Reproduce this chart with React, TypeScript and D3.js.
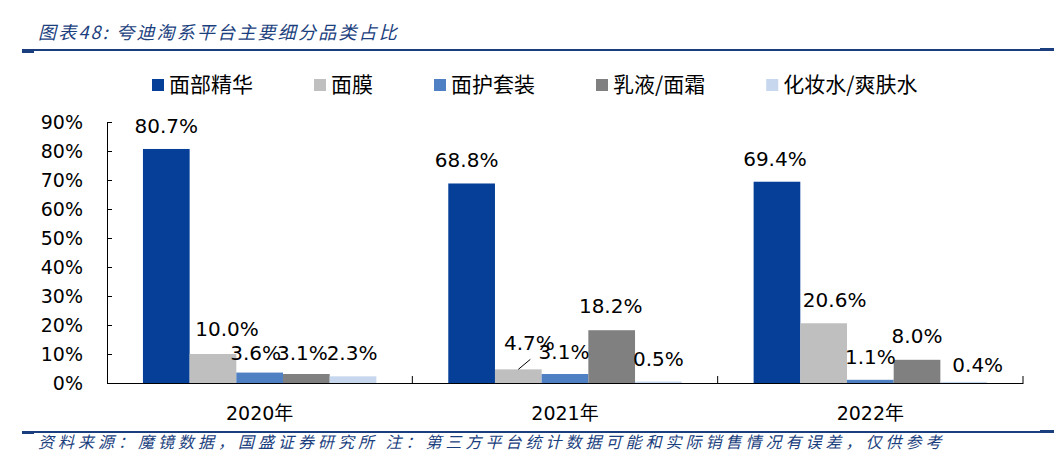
import React, { useRef, useEffect } from 'react'
import * as d3 from 'd3'

// 数据
const years = ['2020年', '2021年', '2022年']
const seriesNames = ['面部精华', '面膜', '面护套装', '乳液/面霜', '化妆水/爽肤水']
const faceEssence = [80.7, 68.8, 69.4]
const faceMask = [10.0, 4.7, 20.6]
const careSet = [3.6, 3.1, 1.1]
const lotionCream = [3.1, 18.2, 8.0]
const toner = [2.3, 0.5, 0.4]
const yTicks = [0, 10, 20, 30, 40, 50, 60, 70, 80, 90]

const title = '图表48:  夸迪淘系平台主要细分品类占比'
const source = '资料来源：魔镜数据，国盛证券研究所 注：第三方平台统计数据可能和实际销售情况有误差，仅供参考'

const colors = ['#063F98', '#BFBFBF', '#4F80C4', '#808080', '#C6D7EE']

// 标签手动微调 [series][year] -> [dx, dy]
const labelNudge: [number, number][][] = [
  [[0, 0], [-5, 0], [-2, 0]],
  [[14, -2], [11, -3], [11, 0]],
  [[-4, 3], [-1, 1], [0, 0]],
  [[-4, 2], [-1, -1], [0, -1]],
  [[-1, 0], [0, 0], [14, 6]],
]

const W = 1060
const H = 469
const margin = { left: 107, right: 1023, top: 122, bottom: 383 }
const blue = '#1B3F7E'

export default function App() {
  const svgRef = useRef<SVGSVGElement>(null)

  useEffect(() => {
    if (!svgRef.current) return
    const svg = d3.select(svgRef.current)
    svg.selectAll('*').remove()

    const values = [faceEssence, faceMask, careSet, lotionCream, toner]

    const x0 = d3.scaleBand<string>().domain(years).range([margin.left, margin.right]).padding(0)
    const x1 = d3.scaleBand<string>().domain(seriesNames).range([0, x0.bandwidth()]).paddingInner(0).paddingOuter(0.77)
    const y = d3.scaleLinear().domain([0, 90]).range([margin.bottom, margin.top])

    const numFont = '"DejaVu Sans", Verdana, sans-serif'
    const cjkFont = '"Noto Sans CJK SC", sans-serif'

    // 标题
    svg.append('text')
      .attr('x', 38).attr('y', 39)
      .attr('font-family', cjkFont)
      .attr('font-size', 18)
      .attr('font-style', 'italic')
      .attr('letter-spacing', 2.2)
      .attr('fill', blue)
      .text(title)

    svg.append('line').attr('x1', 22).attr('x2', 1054).attr('y1', 50).attr('y2', 50)
      .attr('stroke', blue).attr('stroke-width', 2)
    svg.append('rect').attr('x', 22).attr('y', 49).attr('width', 12).attr('height', 4).attr('fill', blue)
    svg.append('rect').attr('x', 1040).attr('y', 48).attr('width', 14).attr('height', 3).attr('fill', blue)

    // 图例
    const legend = svg.append('g').attr('transform', 'translate(152,0)')
    let lx = 0
    seriesNames.forEach((name, i) => {
      legend.append('rect').attr('x', lx).attr('y', 79).attr('width', 12).attr('height', 12).attr('fill', colors[i])
      const t = legend.append('text')
        .attr('x', lx + 17).attr('y', 92)
        .attr('font-family', cjkFont)
        .attr('font-size', 21)
        .attr('fill', '#000')
        .text(name)
      const len = (t.node() as SVGTextElement).getComputedTextLength()
      lx += 17 + len + 61
    })

    // 柱子
    years.forEach((yr, yi) => {
      const gx = x0(yr)!
      seriesNames.forEach((s, si) => {
        const v = values[si][yi]
        svg.append('rect')
          .attr('x', gx + x1(s)!)
          .attr('y', y(v))
          .attr('width', x1.bandwidth())
          .attr('height', y(0) - y(v))
          .attr('fill', colors[si])
      })
    })

    // 坐标轴
    const yAxis = svg.append('g')
      .attr('transform', `translate(${margin.left},0)`)
      .call(d3.axisLeft(y).tickValues(yTicks).tickSize(-5).tickPadding(24).tickFormat(d => `${d}%`))
    yAxis.select('.domain').attr('stroke', '#000')
    yAxis.selectAll('.tick line').attr('stroke', '#000')
    yAxis.selectAll('.tick text')
      .attr('font-family', numFont)
      .attr('font-size', 19)
      .attr('fill', '#000')

    const xAxis = svg.append('g')
      .attr('transform', `translate(0,${margin.bottom})`)
      .call(d3.axisBottom(x0).tickSize(0).tickPadding(0).tickFormat(() => ''))
    xAxis.select('.domain').attr('stroke', '#000')

    // 分隔刻度
    const seps = years.map(yr => x0(yr)! + x0.bandwidth())
    svg.selectAll('.sep').data(seps).enter().append('line')
      .attr('x1', d => d).attr('x2', d => d)
      .attr('y1', margin.bottom - 7).attr('y2', margin.bottom)
      .attr('stroke', '#000')

    // 类别标签
    years.forEach(yr => {
      const cx = x0(yr)! + x0.bandwidth() / 2
      const t = svg.append('text')
        .attr('x', cx).attr('y', 420)
        .attr('text-anchor', 'middle')
        .attr('font-size', 19)
        .attr('fill', '#000')
      t.append('tspan').attr('font-family', numFont).text(yr.replace('年', ''))
      t.append('tspan').attr('font-family', cjkFont).text('年')
    })

    // 数据标签
    years.forEach((yr, yi) => {
      const gx = x0(yr)!
      seriesNames.forEach((s, si) => {
        const v = values[si][yi]
        const cx = gx + x1(s)! + x1.bandwidth() / 2
        const [dx, dy] = labelNudge[si][yi]
        svg.append('text')
          .attr('x', cx + dx)
          .attr('y', y(v) - 16 + dy)
          .attr('text-anchor', 'middle')
          .attr('font-family', numFont)
          .attr('font-size', 20)
          .attr('fill', '#000')
          .text(`${v.toFixed(1)}%`)
        // 引导线
        if (si === 1 && yi === 1) {
          svg.append('line')
            .attr('x1', cx).attr('y1', y(v))
            .attr('x2', cx + 12).attr('y2', y(v) - 10)
            .attr('stroke', '#000').attr('stroke-width', 1)
        }
      })
    })

    // 资料来源
    svg.append('line').attr('x1', 22).attr('x2', 1054).attr('y1', 432).attr('y2', 432)
      .attr('stroke', blue).attr('stroke-width', 2)
    svg.append('rect').attr('x', 22).attr('y', 431).attr('width', 12).attr('height', 3).attr('fill', blue)
    svg.append('rect').attr('x', 1040).attr('y', 430).attr('width', 14).attr('height', 3).attr('fill', blue)
    svg.append('text')
      .attr('x', 38).attr('y', 448)
      .attr('font-family', cjkFont)
      .attr('font-size', 16)
      .attr('font-style', 'italic')
      .attr('letter-spacing', 4)
      .attr('fill', blue)
      .text(source)
  }, [])

  return (
    <svg
      ref={svgRef}
      width={W}
      height={H}
      style={{ position: 'absolute', left: 0, top: 0, background: '#fff' }}
    />
  )
}
